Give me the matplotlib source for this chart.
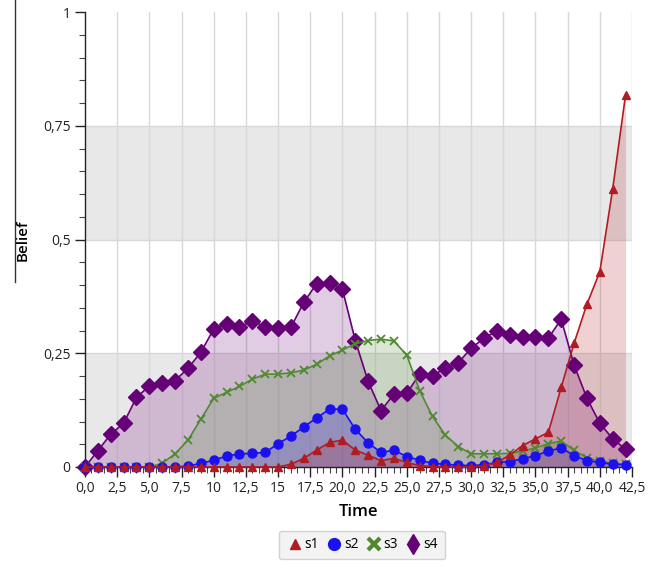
import matplotlib
matplotlib.use("Agg")
import matplotlib.pyplot as plt
from matplotlib.lines import Line2D
from matplotlib.ticker import MultipleLocator, FixedLocator, FixedFormatter
import numpy as np

plt.rcParams['font.family'] = ['Open Sans', 'DejaVu Sans']

time = list(range(43))
s1 = [0, 0, 0, 0, 0, 0, 0, 0, 0, 0, 0, 0, 0, 0, 0, 0, 0.006, 0.019, 0.037, 0.054, 0.059,
      0.037, 0.026, 0.014, 0.019, 0.010, 0.003, 0.001, 0.0, 0.0, 0.0, 0.002, 0.010, 0.026,
      0.047, 0.062, 0.076, 0.175, 0.272, 0.358, 0.429, 0.611, 0.818]
s2 = [0, 0, 0, 0, 0, 0, 0, 0, 0.002, 0.008, 0.015, 0.024, 0.029, 0.030, 0.032, 0.051, 0.068,
      0.088, 0.108, 0.127, 0.127, 0.083, 0.053, 0.032, 0.037, 0.023, 0.015, 0.008, 0.006,
      0.004, 0.003, 0.005, 0.010, 0.012, 0.018, 0.025, 0.035, 0.042, 0.025, 0.014, 0.010,
      0.006, 0.005]
s3 = [0, 0, 0, 0, 0, 0, 0.008, 0.029, 0.059, 0.105, 0.151, 0.164, 0.177, 0.193, 0.204, 0.204,
      0.207, 0.213, 0.226, 0.244, 0.257, 0.271, 0.278, 0.281, 0.277, 0.246, 0.168, 0.111,
      0.070, 0.045, 0.029, 0.029, 0.029, 0.030, 0.035, 0.042, 0.051, 0.057, 0.037, 0.020,
      0.013, 0.008, 0.006]
s4 = [0.0, 0.036, 0.072, 0.096, 0.153, 0.178, 0.185, 0.190, 0.217, 0.252, 0.303, 0.314, 0.308,
      0.321, 0.308, 0.306, 0.307, 0.362, 0.403, 0.405, 0.391, 0.278, 0.188, 0.124, 0.160,
      0.162, 0.204, 0.201, 0.217, 0.229, 0.261, 0.283, 0.299, 0.290, 0.286, 0.286, 0.283,
      0.325, 0.224, 0.151, 0.096, 0.062, 0.039]

x_tick_values = [0, 2.5, 5, 7.5, 10, 12.5, 15, 17.5, 20, 22.5, 25, 27.5, 30, 32.5, 35, 37.5, 40, 42.5]
x_tick_labels = ["0,0", "2,5", "5,0", "7,5", "10", "12,5", "15", "17,5", "20,0", "22,5", "25,0",
                 "27,5", "30,0", "32,5", "35,0", "37,5", "40,0", "42,5"]
y_tick_values = [0, 0.25, 0.5, 0.75, 1]
y_tick_labels = ["0", "0,25", "0,5", "0,75", "1"]

series = [
    ("s1", s1, "#b01c22", "^", 5.5),
    ("s2", s2, "#1a10f0", "o", 6.5),
    ("s3", s3, "#4f8a30", "x", 6),
    ("s4", s4, "#660077", "D", 8),
]

fig = plt.figure(figsize=(6.6, 5.68), dpi=100)
ax = fig.add_axes([85/660, 1-467/568, 547/660, 455/568])

# bands
for lo, hi in [(0, 0.25), (0.5, 0.75)]:
    ax.axhspan(lo, hi, color="#e8e8e8", zorder=0, lw=0)
for yv in [0.25, 0.5, 0.75]:
    ax.axhline(yv, color="#d8d8d8", lw=1, zorder=0.5)
for xv in x_tick_values[1:]:
    ax.axvline(xv, color="#d8d8d8", lw=1, zorder=0.5)

draw_order = [3, 2, 1, 0]
for i in draw_order:
    name, vals, col, mk, ms = series[i]
    ax.fill_between(time, 0, vals, color=col, alpha=0.2, lw=0, zorder=1 + (3 - i) * 0.1)
for i in draw_order:
    name, vals, col, mk, ms = series[i]
    kw = dict(markeredgecolor=col, markerfacecolor=col)
    if mk == "x":
        kw["markeredgewidth"] = 1.3
    ax.plot(time, vals, color=col, lw=1.2, marker=mk, markersize=ms, zorder=3 + (3 - i) * 0.1,
            clip_on=False, **kw)

ax.set_xlim(0, 42.5)
ax.set_ylim(0, 1)
ax.xaxis.set_major_locator(FixedLocator(x_tick_values))
ax.xaxis.set_major_formatter(FixedFormatter(x_tick_labels))
ax.xaxis.set_minor_locator(MultipleLocator(0.5))
ax.yaxis.set_major_locator(FixedLocator(y_tick_values))
ax.yaxis.set_major_formatter(FixedFormatter(y_tick_labels))
ax.yaxis.set_minor_locator(MultipleLocator(0.05))
ax.tick_params(axis="both", which="major", direction="out", length=7, width=1,
               labelsize=10, colors="#222222")
ax.tick_params(axis="both", which="minor", direction="out", length=4, width=0.8, color="#444444")
ax.tick_params(axis="x", pad=3)
for sp in ["top", "right"]:
    ax.spines[sp].set_visible(False)
for sp in ["left", "bottom"]:
    ax.spines[sp].set_color("#222222")
    ax.spines[sp].set_linewidth(1)

ax.set_xlabel("Time", fontsize=12, fontweight="semibold", labelpad=6)
fig.text(23/660, 1-240/568, "Belief", rotation=90, fontsize=11, fontweight="semibold",
         ha="center", va="center")
fig.add_artist(Line2D([15/660, 15/660], [1.0, 1-282/568], color="#333333", lw=1))

handles = [Line2D([], [], ls="none", marker=mk, color=col, markersize=ms + 2,
                  markeredgewidth=3 if mk == "x" else 1)
           for name, vals, col, mk, ms in series]
handles[3] = Line2D([], [], ls="none", marker="d", color=series[3][2], markersize=10)
leg = fig.legend(handles, [s[0] for s in series], loc="center", bbox_to_anchor=(362/660, 1-545/568),
                 ncol=4, frameon=True, fontsize=10, handletextpad=0.1, columnspacing=0.5,
                 borderpad=0.5, handlelength=1.2, fancybox=True)
leg.get_frame().set_facecolor("#f0f0f0")
leg.get_frame().set_edgecolor("#c8c8c8")

fig.savefig("out.png", dpi=100)
